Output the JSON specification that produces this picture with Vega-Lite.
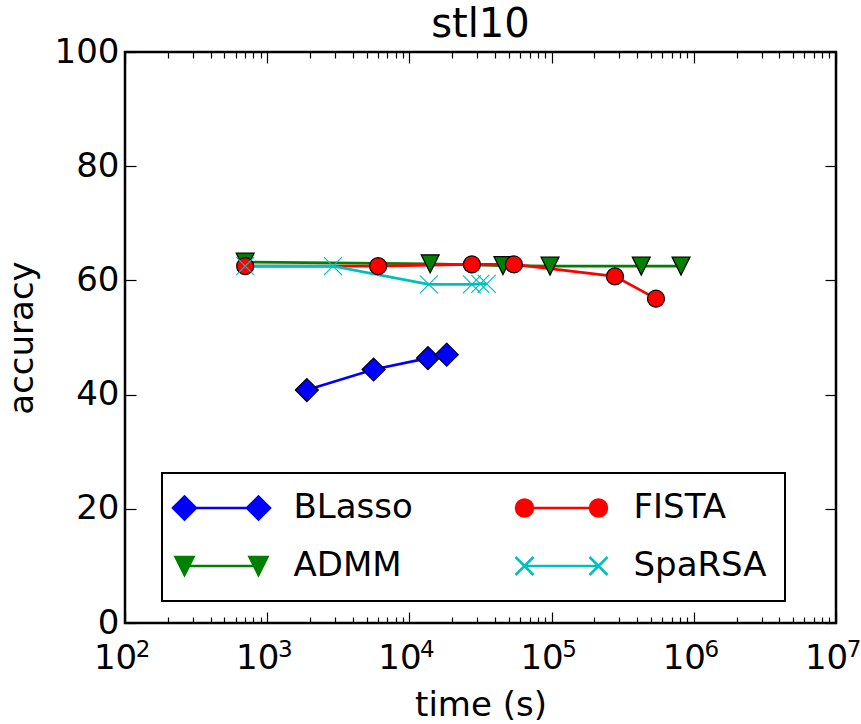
{
  "$schema": "https://vega.github.io/schema/vega-lite/v6.json",
  "width": 711,
  "height": 571,
  "autosize": {"type": "none"},
  "padding": {"left": 125, "top": 52, "right": 25, "bottom": 101},
  "background": "white",
  "title": {"text": "stl10", "fontSize": 40, "font": "DejaVu Sans", "fontWeight": "normal", "offset": -10, "color": "black"},
  "config": {
    "view": {"stroke": "black", "strokeWidth": 2.5},
    "axis": {
      "grid": false, "domain": false,
      "labelFont": "DejaVu Sans", "titleFont": "DejaVu Sans",
      "labelFontSize": 34, "titleFontSize": 34, "titleFontWeight": "normal",
      "labelColor": "black", "titleColor": "black", "tickColor": "black",
      "tickWidth": 1.2, "labelFlush": false, "labelOverlap": false
    },
    "legend": {
      "orient": "none", "legendX": 37, "legendY": 421, "columns": 2,
      "columnPadding": 97, "rowPadding": 24, "padding": 18,
      "strokeColor": "black", "fillColor": "white", "strokeWidth": 2, "cornerRadius": 0,
      "labelFont": "DejaVu Sans", "labelFontSize": 34, "labelColor": "black",
      "labelLimit": 400, "labelOffset": 55, "symbolOffset": 24.5, "symbolSize": 400,
      "symbolOpacity": 1, "symbolStrokeWidth": 2.5
    }
  },
  "data": {"values": [
    {"series": "BLasso", "time": 1900, "accuracy": 40.8},
    {"series": "BLasso", "time": 5600, "accuracy": 44.4},
    {"series": "BLasso", "time": 13500, "accuracy": 46.4},
    {"series": "BLasso", "time": 18300, "accuracy": 47.0},
    {"series": "ADMM", "time": 700, "accuracy": 63.2},
    {"series": "ADMM", "time": 14000, "accuracy": 62.9},
    {"series": "ADMM", "time": 45500, "accuracy": 62.6},
    {"series": "ADMM", "time": 97500, "accuracy": 62.5},
    {"series": "ADMM", "time": 427000, "accuracy": 62.5},
    {"series": "ADMM", "time": 813000, "accuracy": 62.5},
    {"series": "FISTA", "time": 700, "accuracy": 62.5},
    {"series": "FISTA", "time": 6030, "accuracy": 62.5},
    {"series": "FISTA", "time": 27500, "accuracy": 62.8},
    {"series": "FISTA", "time": 54300, "accuracy": 62.8},
    {"series": "FISTA", "time": 279000, "accuracy": 60.7},
    {"series": "FISTA", "time": 542000, "accuracy": 56.8},
    {"series": "SpaRSA", "time": 700, "accuracy": 62.5},
    {"series": "SpaRSA", "time": 2900, "accuracy": 62.5},
    {"series": "SpaRSA", "time": 13700, "accuracy": 59.3},
    {"series": "SpaRSA", "time": 27500, "accuracy": 59.3},
    {"series": "SpaRSA", "time": 31500, "accuracy": 59.4},
    {"series": "SpaRSA", "time": 35000, "accuracy": 59.4}
  ]},
  "layer": [
    {
      "mark": {"type": "line", "strokeWidth": 2.7},
      "encoding": {
        "x": {"field": "time", "type": "quantitative",
          "scale": {"type": "log", "domain": [100, 10000000], "nice": false},
          "axis": {"orient": "bottom", "values": [100, 1000, 10000, 100000, 1000000, 10000000], "tickSize": -11,
            "labelExpr": "'10'", "labelOffset": -10,
            "labelPadding": 29, "title": "time (s)", "titlePadding": 13}},
        "y": {"field": "accuracy", "type": "quantitative",
          "scale": {"domain": [0, 100], "nice": false},
          "axis": {"orient": "left", "values": [0, 20, 40, 60, 80, 100], "tickSize": -11, "labelPadding": 17,
            "title": "accuracy", "titlePadding": 15}},
        "color": {"field": "series", "type": "nominal",
          "scale": {"domain": ["BLasso", "ADMM", "FISTA", "SpaRSA"], "range": ["#0000ff", "#008000", "#ff0000", "#00bfbf"]},
          "legend": {"title": null}}
      }
    },
    {
      "mark": {"type": "point", "filled": true, "opacity": 1, "size": 400, "strokeWidth": 1.2},
      "encoding": {
        "x": {"field": "time", "type": "quantitative",
          "axis": {"orient": "bottom", "values": [200,300,400,500,600,700,800,900,2000,3000,4000,5000,6000,7000,8000,9000,20000,30000,40000,50000,60000,70000,80000,90000,200000,300000,400000,500000,600000,700000,800000,900000,2000000,3000000,4000000,5000000,6000000,7000000,8000000,9000000],
            "tickSize": -6, "labels": false, "title": null}},
        "y": {"field": "accuracy", "type": "quantitative",
          "axis": {"orient": "right", "values": [0, 20, 40, 60, 80, 100], "tickSize": -11, "labels": false, "title": null}},
        "color": {"field": "series", "type": "nominal"},
        "shape": {
          "condition": [
            {"test": "datum.series === 'BLasso'", "value": "M-1.15,0L0,-1.15L1.15,0L0,1.15Z"},
            {"test": "datum.series === 'FISTA'", "value": "M0.85,0A0.85,0.85,0,1,1,-0.85,0A0.85,0.85,0,1,1,0.85,0Z"},
            {"test": "datum.series === 'ADMM'", "value": "M-0.9,-0.9L0.9,-0.9L0,0.9Z"}],
          "value": "M-0.9,-0.9L0.9,0.9M-0.9,0.9L0.9,-0.9"},
        "stroke": {"condition": {"test": "datum.series === 'SpaRSA'", "value": "#00bfbf"}, "value": "black"}
      }
    },
    {
      "mark": {"type": "point", "filled": true, "opacity": 0},
      "encoding": {
        "x": {"field": "time", "type": "quantitative",
          "axis": {"orient": "top", "values": [100, 1000, 10000, 100000, 1000000, 10000000], "tickSize": -11, "labels": false, "title": null}},
        "y": {"field": "accuracy", "type": "quantitative", "axis": null},
        "color": {"field": "series", "type": "nominal"},
        "stroke": {"field": "series", "type": "nominal",
          "scale": {"domain": ["BLasso", "ADMM", "FISTA", "SpaRSA"], "range": ["#0000ff", "#008000", "#ff0000", "#00bfbf"]}},
        "shape": {"field": "series", "type": "nominal",
          "scale": {"domain": ["BLasso", "ADMM", "FISTA", "SpaRSA"],
            "range": [
              "M-4.85,0L-3.7,-1.15L-2.55,0L-3.7,1.15Z M2.55,0L3.7,-1.15L4.85,0L3.7,1.15Z M-3.7,0L3.7,0",
              "M-4.6,-0.9L-2.8,-0.9L-3.7,0.9Z M2.8,-0.9L4.6,-0.9L3.7,0.9Z M-3.7,0L3.7,0",
              "M-2.85,0A0.85,0.85,0,1,1,-4.55,0A0.85,0.85,0,1,1,-2.85,0Z M4.55,0A0.85,0.85,0,1,1,2.85,0A0.85,0.85,0,1,1,4.55,0Z M-3.7,0L3.7,0",
              "M-4.6,-0.9L-2.8,0.9M-4.6,0.9L-2.8,-0.9 M2.8,-0.9L4.6,0.9M2.8,0.9L4.6,-0.9 M-3.7,0L3.7,0"]}}
      }
    },
    {
      "mark": {"type": "point", "opacity": 0},
      "encoding": {
        "x": {"field": "time", "type": "quantitative",
          "axis": {"orient": "top", "values": [200,300,400,500,600,700,800,900,2000,3000,4000,5000,6000,7000,8000,9000,20000,30000,40000,50000,60000,70000,80000,90000,200000,300000,400000,500000,600000,700000,800000,900000,2000000,3000000,4000000,5000000,6000000,7000000,8000000,9000000],
            "tickSize": -6, "labels": false, "title": null}},
        "y": {"field": "accuracy", "type": "quantitative", "axis": null}
      }
    },
    {
      "mark": {"type": "point", "opacity": 0},
      "encoding": {
        "x": {"field": "time", "type": "quantitative",
          "axis": {"orient": "bottom", "values": [100, 1000, 10000, 100000, 1000000, 10000000], "tickSize": -11, "tickOpacity": 0,
            "labelExpr": "'' + round(log(datum.value)/LN10)", "labelFontSize": 23, "labelOffset": 17.5,
            "labelPadding": 26.8, "title": null}},
        "y": {"field": "accuracy", "type": "quantitative", "axis": null}
      }
    }
  ],
  "resolve": {"axis": {"x": "independent", "y": "independent"}}
}
